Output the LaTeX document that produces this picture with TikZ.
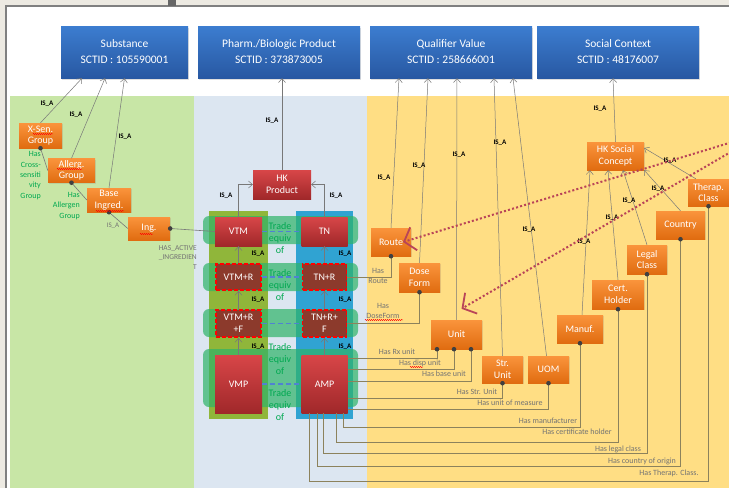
\documentclass[tikz,border=0pt]{standalone}
\usepackage{fontspec}
\setmainfont{Carlito}
\usetikzlibrary{arrows.meta,shadows,decorations.pathmorphing}
\definecolor{hkblue}{RGB}{60,125,208}
\definecolor{hkbluedark}{RGB}{40,88,162}
\definecolor{hkorange}{RGB}{250,148,60}
\definecolor{hkorangedark}{RGB}{224,108,16}
\definecolor{hkred}{RGB}{216,70,72}
\definecolor{hkreddark}{RGB}{160,40,42}
\definecolor{hkbrown}{RGB}{140,58,44}
\definecolor{bandgreen}{RGB}{200,230,166}
\definecolor{bandblue}{RGB}{220,230,241}
\definecolor{bandyellow}{RGB}{255,222,132}
\definecolor{cololive}{RGB}{144,182,58}
\definecolor{colcyan}{RGB}{48,163,210}
\definecolor{rowgreen}{RGB}{46,180,104}
\definecolor{labelgreen}{RGB}{0,168,80}
\definecolor{linegray}{RGB}{120,120,120}
\definecolor{lineolive}{RGB}{140,130,92}
\definecolor{pointred}{RGB}{185,68,88}
\definecolor{framebeige}{RGB}{237,234,226}
\definecolor{equivblue}{RGB}{80,130,210}

\tikzset{
  concept/.style={top color=hkblue, bottom color=hkbluedark, text=white, align=center,
    minimum height=52pt, inner sep=0, font=\fontsize{11.5}{16}\selectfont,
    drop shadow={opacity=0.25, shadow xshift=1pt, shadow yshift=-1.5pt}},
  attrbox/.style={top color=hkorange, bottom color=hkorangedark, text=white, align=center,
    inner sep=0, font=\fontsize{10}{11.5}\selectfont,
    drop shadow={opacity=0.2, shadow xshift=1pt, shadow yshift=-1pt}},
  prodbox/.style={top color=hkred, bottom color=hkreddark, text=white, align=center,
    inner sep=0, font=\fontsize{10}{11.5}\selectfont},
  variantbox/.style={fill=hkbrown, draw=red, line width=1.8pt, dash pattern=on 4pt off 2pt,
    text=white, align=center, inner sep=0, font=\fontsize{10}{11.5}\selectfont},
  isa/.style={inner sep=0, font=\fontsize{7}{7}\selectfont\bfseries},
  haslabel/.style={inner sep=0, text=black!55, align=center, font=\fontsize{8}{10}\selectfont},
  greenlabel/.style={inner sep=0, text=labelgreen, font=\fontsize{8}{10.3}\selectfont},
  tradelabel/.style={inner sep=0, text=labelgreen, align=center, font=\fontsize{10}{12}\selectfont},
  isaline/.style={draw=linegray, line width=0.5pt, -{Straight Barb[length=4pt,width=7pt]}},
  hasline/.style={draw=lineolive, line width=0.6pt},
  hasdot/.style={fill=black!75},
  equivline/.style={draw=equivblue, line width=1.6pt, dash pattern=on 5pt off 3pt},
  pointer/.style={draw=pointred, line width=2pt, dash pattern=on 2pt off 2.2pt,
    -{Straight Barb[length=10pt,width=24pt,line width=1.8pt]}},
  spellmark/.style={draw=red, line width=0.4pt, decorate,
    decoration={snake, amplitude=0.6pt, segment length=2pt}}
}

\begin{document}
\begin{tikzpicture}[x=1pt,y=-1pt]
\useasboundingbox (0,0) rectangle (729,488);
% Window frame
\fill[framebeige] (0,0) rectangle (729,488);
\fill[white] (7,7) rectangle (729,488);
\draw[black!50, line width=2pt] (6,488) -- (6,6) -- (729,6);
\fill[black!60] (168,0) rectangle (176,6);

% Bands
\fill[bandgreen] (10,96) rectangle (194,488);
\fill[bandblue] (194,96) rectangle (367,488);
\fill[bandyellow] (367,96) rectangle (729,488);
\fill[cololive] (209,211) rectangle (268,419);
\fill[colcyan] (296,211) rectangle (353,419);
\foreach \ya/\yb in {216/244,263/291,309/337,349/407}
    \fill[rowgreen, opacity=0.7, rounded corners=6pt] (203,\ya) rectangle (358,\yb);

% Top concepts
\node[concept, minimum width=127pt] (subst) at (124.5,52) {Substance\\SCTID : 105590001};
\node[concept, minimum width=162pt] (pharm) at (279,52) {Pharm./Biologic Product\\SCTID : 373873005};
\node[concept, minimum width=162pt] (qual) at (451,52) {Qualifier Value\\SCTID : 258666001};
\node[concept, minimum width=162pt] (social) at (618,52) {Social Context\\SCTID : 48176007};

% Substance side
\node[attrbox, minimum width=43pt, minimum height=25pt] (xsen) at (40.5,135.5) {X-Sen.\\Group};
\node[attrbox, minimum width=47pt, minimum height=24pt] (allerg) at (71.5,170.5) {Allerg.\\Group};
\node[attrbox, minimum width=44pt, minimum height=24pt] (base) at (109,200) {Base\\Ingred.};
\node[attrbox, minimum width=42pt, minimum height=23pt] (ing) at (149,228.5) {Ing.};

% Products
\node[prodbox, minimum width=58pt, minimum height=29pt] (hkprod) at (282,184.5) {HK\\Product};
\node[prodbox, minimum width=47pt, minimum height=29pt] (vtm) at (238.5,231.5) {VTM};
\node[prodbox, minimum width=46pt, minimum height=29pt] (tn) at (324.5,231.5) {TN};
\node[variantbox, minimum width=45pt, minimum height=26pt] (vtmr) at (238.5,277) {VTM+R};
\node[variantbox, minimum width=44pt, minimum height=26pt] (tnr) at (324.5,277) {TN+R};
\node[variantbox, minimum width=45pt, minimum height=27pt] (vtmrf) at (238.5,323.5) {VTM+R\\+F};
\node[variantbox, minimum width=44pt, minimum height=27pt] (tnrf) at (324.5,323.5) {TN+R+\\F};
\node[prodbox, minimum width=47pt, minimum height=58pt] (vmp) at (238.5,384) {VMP};
\node[prodbox, minimum width=46pt, minimum height=58pt] (amp) at (324.5,384) {AMP};

% Qualifiers
\node[attrbox, minimum width=40pt, minimum height=28pt] (route) at (391,242) {Route};
\node[attrbox, minimum width=41pt, minimum height=29pt] (doseform) at (419.5,277.5) {Dose\\Form};
\node[attrbox, minimum width=51pt, minimum height=29pt] (unit) at (456.5,334.5) {Unit};
\node[attrbox, minimum width=41pt, minimum height=27pt] (strunit) at (502.5,369.5) {Str.\\Unit};
\node[attrbox, minimum width=41pt, minimum height=27pt] (uom) at (548.5,369.5) {UOM};

% Social context
\node[attrbox, minimum width=57pt, minimum height=28pt] (hksocial) at (615.5,156) {HK Social\\Concept};
\node[attrbox, minimum width=46pt, minimum height=28pt] (manuf) at (580,329) {Manuf.};
\node[attrbox, minimum width=52pt, minimum height=29pt] (cert) at (618,294.5) {Cert.\\Holder};
\node[attrbox, minimum width=40pt, minimum height=29pt] (legal) at (647,259.5) {Legal\\Class};
\node[attrbox, minimum width=49pt, minimum height=28pt] (country) at (680.5,225) {Country};
\node[attrbox, minimum width=41pt, minimum height=27pt] (therap) at (708.5,192.5) {Therap.\\Class};

% IS_A links
\draw[isaline] (xsen.north) -- ([xshift=-42.5pt]subst.south);
\draw[isaline] (allerg.north) -- ([xshift=-19.5pt]subst.south);
\draw[isaline] (base.north) -- (subst.south);
\draw[isaline] (hkprod.north) -- (hkprod.north |- pharm.south);
\draw[isaline] (vtm.north) |- (hkprod.west);
\draw[isaline] (tn.north) |- (hkprod.east);
\foreach \a/\b in {vtmr/vtm,vtmrf/vtmr,vmp/vtmrf,tnr/tn,tnrf/tnr,amp/tnrf}
    \draw[isaline] (\a.north) -- (\b.south);
\draw[isaline] (route.north) -- ([xshift=-52pt]qual.south);
\draw[isaline] (doseform.north) -- ([xshift=-23pt]qual.south);
\draw[isaline] (unit.north) -- ([xshift=6pt]qual.south);
\draw[isaline] (strunit.north) -- ([xshift=43pt]qual.south);
\draw[isaline] ([xshift=-2pt]uom.north) -- ([xshift=62pt]qual.south);
\draw[isaline] (hksocial.north) -- ([xshift=-5pt]social.south);
\draw[isaline] ([xshift=2pt]manuf.north) -- ([xshift=-25.5pt]hksocial.south);
\draw[isaline] (cert.north) -- ([xshift=-7.5pt]hksocial.south);
\draw[isaline] (legal.north) -- ([xshift=7.5pt]hksocial.south);
\draw[isaline] (country.north) -- (hksocial.south east);
\draw[isaline] ([xshift=8pt]therap.north west) -- ([yshift=8pt]hksocial.east);

% Has links
\coordinate (unitrx) at ([xshift=-19.5pt]unit.south);
\coordinate (unitdisp) at ([xshift=-2.5pt]unit.south);
\coordinate (unitbase) at ([xshift=14.5pt]unit.south);
\draw[hasline, draw=linegray] (xsen.south) -- (allerg.west);
\draw[hasline, draw=linegray] (allerg.south) -- (base.west);
\draw[hasline, draw=linegray] (base.south) -- (ing.west);
\draw[hasline, draw=linegray] (ing.east) -- (vtm.west);
\draw[hasline] (route.south) |- (tnr.east);
\draw[hasline] (doseform.south) |- (tnrf.east);
\draw[hasline] (unitrx) |- ([yshift=26pt]amp.east);
\draw[hasline] (unitdisp) |- ([yshift=15pt]amp.east);
\draw[hasline] (unitbase) |- ([yshift=3pt]amp.east);
\draw[hasline] (strunit.south) |- ([yshift=-14pt]amp.east);
\draw[hasline] (uom.south) |- ([yshift=-25pt]amp.east);
\draw[hasline] (manuf.south) -- ++(0,84) -| ([xshift=19pt]amp.south);
\draw[hasline] (cert.south) -- ++(0,133) -| ([xshift=12pt]amp.south);
\draw[hasline] (legal.south) -- ++(0,179) -| ([xshift=-1pt]amp.south);
\draw[hasline] (country.south) -- ++(0,227) -| ([xshift=-7pt]amp.south);
\draw[hasline] (therap.south) -- ++(0,275) -| ([xshift=-15pt]amp.south);
\foreach \p in {xsen.south,allerg.south,base.south,ing.east,route.south,doseform.south,
    unitrx,unitdisp,unitbase,strunit.south,uom.south,manuf.south,cert.south,
    legal.south,country.south,therap.south}
    \fill[hasdot] (\p) circle (2.3);

% Trade equivalents
\foreach \a/\b in {vtm/tn,vtmr/tnr,vtmrf/tnrf,vmp/amp}
    \draw[equivline] (\a.east) -- (\b.west);
\foreach \y [count=\i] in {238,285,359,405}
    \node[tradelabel] (trade\i) at (280,\y) {Trade\\equiv\\of};

% Labels
\foreach \x/\y [count=\i] in {47/104,76/115,125/137,272/121,226/196,336/196,258/254,345/254,
    258/300,345/300,258/347,345/347,384/178,419/166,459/155,500/143,529/230,600/109,
    584/242,612/218,629/201,658/189,670/161}
    \node[isa] (isa\i) at (\x,\y) {IS\_A};
\node[isa, font=\fontsize{7}{7}\selectfont, text=black!55] (isaing) at (113,226) {IS\_A};
\node[greenlabel, align=right, anchor=east] (crosslbl) at (41,175.5) {Has\\Cross-\\sensiti\\vity\\Group};
\node[greenlabel, align=right, anchor=east] (allerglbl) at (80,206) {Has\\Allergen\\Group};
\node[haslabel, align=right, anchor=east, font=\fontsize{7.5}{9.5}\selectfont] (activelbl) at (197,257.5) {HAS\_ACTIVE\\\_INGREDIEN\\T};
\node[haslabel] (routelbl) at (378,276) {Has\\Route};
\node[haslabel] (formlbl) at (383,310.5) {Has\\DoseForm};
\node[haslabel] (rxlbl) at (397,352) {Has Rx unit};
\node[haslabel] (displbl) at (420,363) {Has disp unit};
\node[haslabel] (baselbl) at (444,374) {Has base unit};
\node[haslabel] (strlbl) at (477,392) {Has Str. Unit};
\node[haslabel] (uomlbl) at (510,403) {Has unit of measure};
\node[haslabel] (manuflbl) at (548,421) {Has manufacturer};
\node[haslabel] (certlbl) at (577,432) {Has certificate holder};
\node[haslabel] (legallbl) at (618,449) {Has legal class};
\node[haslabel] (countrylbl) at (642,461) {Has country of origin};
\node[haslabel] (therlbl) at (669,473) {Has Therap. Class.};

% Spell check marks
\foreach \xa/\xb/\y in {33/53/134,57/82/169,96/124/211,140/153/234,365/403/320,410/423/367}
    \draw[spellmark] (\xa,\y) -- (\xb,\y);

% Pointers from outside
\coordinate (offa) at (735,141.2);
\coordinate (offb) at (735,149.5);
\draw[pointer] (offa) -- ([xshift=12pt]route.center);
\draw[pointer] (offb) -- ([xshift=5pt,yshift=11pt]unit.north);
\end{tikzpicture}
\end{document}
